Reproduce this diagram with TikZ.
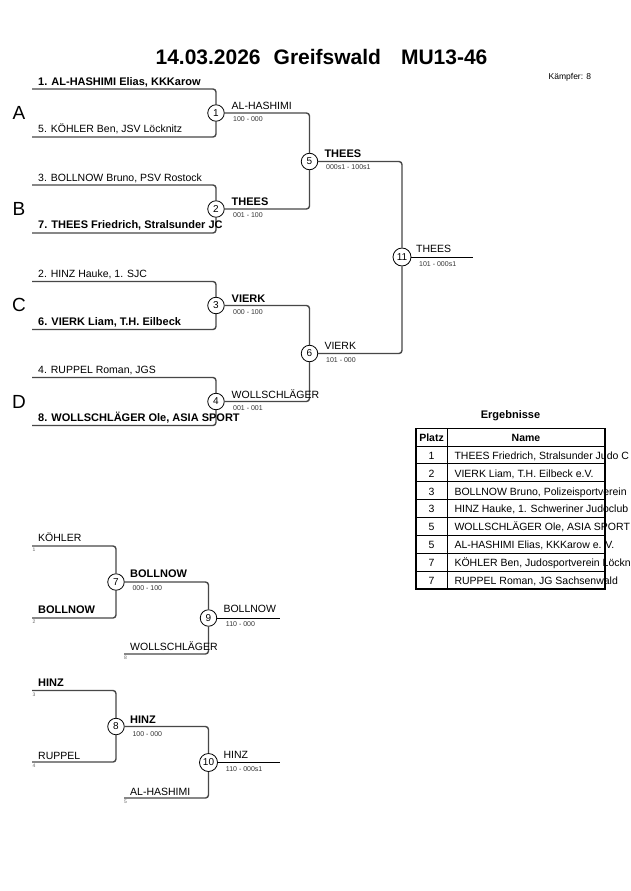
\documentclass[tikz,border=0pt]{standalone}
\usepackage{fontspec}
\setmainfont{Liberation Sans}
\begin{document}
\begin{tikzpicture}[x=1pt,y=-1pt,
  br/.style={draw=black!72, line width=1.4pt, rounded corners=3pt},
  bout/.style={draw=black, line width=1pt},
  mc/.style={circle, draw=black, line width=0.8pt, fill=white, minimum size=16.5pt, inner sep=0pt, font=\fontsize{10}{10}\selectfont},
  mcw/.style={mc, minimum size=18pt},
  nm/.style={anchor=base west, inner sep=0pt, font=\fontsize{10.5}{12}\selectfont},
  nmb/.style={anchor=base west, inner sep=0pt, font=\fontsize{11}{12}\selectfont\bfseries},
  sc/.style={anchor=base west, inner sep=0pt, font=\fontsize{7}{8}\selectfont, text=black!80},
  seed/.style={anchor=north west, inner sep=0pt, font=\fontsize{5}{5}\selectfont, text=black!60},
  pool/.style={anchor=center, inner sep=0pt, font=\fontsize{19}{20}\selectfont},
  cell/.style={anchor=base, inner sep=0pt, font=\fontsize{10.5}{12}\selectfont},
  celln/.style={anchor=base west, inner sep=0pt, font=\fontsize{10.5}{12}\selectfont},
]
\useasboundingbox[fill=white] (0,0) rectangle (630,891);

% title
\node[anchor=base, inner sep=0pt, font=\fontsize{21}{22}\selectfont\bfseries] (title) at (321.5,65) {14.03.2026\hspace{13pt}Greifswald\hspace{20pt}MU13-46};
\node[anchor=base west, inner sep=0pt, font=\fontsize{8.5}{9}\selectfont] (kaempfer) at (548.5,80) {Kämpfer: 8};

% pool letters
\node[pool] (pA) at (19,113) {A};
\node[pool] (pB) at (19,209) {B};
\node[pool] (pC) at (19,305) {C};
\node[pool] (pD) at (19,401.5) {D};

% match circles (main bracket)
\node[mc] (m1) at (216,113) {1};
\node[mc] (m2) at (216,209) {2};
\node[mc] (m3) at (216,305.5) {3};
\node[mc] (m4) at (216,401.5) {4};
\node[mc] (m5) at (309.5,161.5) {5};
\node[mc] (m6) at (309.5,353.5) {6};
\node[mcw] (m11) at (402,257) {11};

% start coordinates
\coordinate (s1) at (32,89);
\coordinate (s5) at (32,137);
\coordinate (s3) at (32,185);
\coordinate (s7) at (32,233);
\coordinate (s2) at (32,281.5);
\coordinate (s6) at (32,329.5);
\coordinate (s4) at (32,377.5);
\coordinate (s8) at (32,425.5);
\coordinate (fin) at (472.5,257);

% connectors
\draw[br] (s1) -| (m1);
\draw[br] (s5) -| (m1);
\draw[br] (s3) -| (m2);
\draw[br] (s7) -| (m2);
\draw[br] (s2) -| (m3);
\draw[br] (s6) -| (m3);
\draw[br] (s4) -| (m4);
\draw[br] (s8) -| (m4);
\draw[br] (m1) -| (m5);
\draw[br] (m2) -| (m5);
\draw[br] (m3) -| (m6);
\draw[br] (m4) -| (m6);
\draw[br] (m5) -| (m11);
\draw[br] (m6) -| (m11);
\draw[bout] (m11) -- (fin);

% competitor labels
\node[nmb] (n1) at (38,85) {1. AL-HASHIMI Elias, KKKarow};
\node[nm]  (n5) at (38,132.5) {5. KÖHLER Ben, JSV Löcknitz};
\node[nm]  (n3) at (38,181) {3. BOLLNOW Bruno, PSV Rostock};
\node[nmb] (n7) at (38,228.5) {7. THEES Friedrich, Stralsunder JC};
\node[nm]  (n2) at (38,277.5) {2. HINZ Hauke, 1. SJC};
\node[nmb] (n6) at (38,325) {6. VIERK Liam, T.H. Eilbeck};
\node[nm]  (n4) at (38,373) {4. RUPPEL Roman, JGS};
\node[nmb] (n8) at (38,421) {8. WOLLSCHLÄGER Ole, ASIA SPORT};

% winners and scores
\node[nm]  (w1) at (231.5,109) {AL-HASHIMI};
\node[sc]  (r1) at (233,121.5) {100 - 000};
\node[nmb] (w2) at (231.5,205) {THEES};
\node[sc]  (r2) at (233,217.3) {001 - 100};
\node[nmb] (w3) at (231.5,302) {VIERK};
\node[sc]  (r3) at (233,314) {000 - 100};
\node[nm]  (w4) at (231.5,398) {WOLLSCHLÄGER};
\node[sc]  (r4) at (233,410) {001 - 001};
\node[nmb] (w5) at (324.3,157.3) {THEES};
\node[sc]  (r5) at (326,169.3) {000s1 - 100s1};
\node[nm]  (w6) at (324.3,349.3) {VIERK};
\node[sc]  (r6) at (326,362.3) {101 - 000};
\node[nm]  (w11) at (416,252.7) {THEES};
\node[sc]  (r11) at (419,266.7) {101 - 000s1};

% results table
\node[anchor=base, inner sep=0pt, font=\fontsize{11}{12}\selectfont\bfseries] (erg) at (510.5,418.3) {Ergebnisse};
\begin{scope}
\clip (0,0) rectangle (630,891);
\foreach \i/\p/\n in {1/1/{THEES Friedrich, Stralsunder Judo C},
                      2/2/{VIERK Liam, T.H. Eilbeck e.V.},
                      3/3/{BOLLNOW Bruno, Polizeisportverein},
                      4/3/{HINZ Hauke, 1. Schweriner Judoclub},
                      5/5/{WOLLSCHLÄGER Ole, ASIA SPORT},
                      6/5/{AL-HASHIMI Elias, KKKarow e. V.},
                      7/7/{KÖHLER Ben, Judosportverein Löckn},
                      8/7/{RUPPEL Roman, JG Sachsenwald}}{
  \node[cell] (tp\i) at (431.5,{446+17.875*\i-4.6}) {\p};
  \node[celln] (tn\i) at (454.3,{446+17.875*\i-4.6}) {\n};
}
\end{scope}
\node[cell, font=\fontsize{10.5}{12}\selectfont\bfseries] (hp) at (431.5,441) {Platz};
\node[cell, font=\fontsize{10.5}{12}\selectfont\bfseries] (hn) at (526,441) {Name};
\foreach \i in {0,...,7}{
  \draw[line width=0.8pt] (416,{446+17.875*\i}) -- (605,{446+17.875*\i});
}
\draw[line width=0.8pt] (447.3,428.3) -- (447.3,589);
\draw[line width=1.6pt] (416,428.3) rectangle (605,589);

% repechage bracket 1
\node[mc] (m7) at (116,582) {7};
\node[mc] (m9) at (208.5,618) {9};
\coordinate (t1) at (32,546);
\coordinate (t2) at (32,618);
\coordinate (t8) at (124,654);
\coordinate (e9) at (279.5,618);
\draw[br] (t1) -| (m7);
\draw[br] (t2) -| (m7);
\draw[br] (m7) -| (m9);
\draw[br] (t8) -| (m9);
\draw[bout] (m9) -- (e9);
\node[nm]  (k1) at (38,541.7) {KÖHLER};
\node[seed] (q1) at (32.3,548.3) {1};
\node[nmb] (k2) at (38,613.3) {BOLLNOW};
\node[seed] (q2) at (32.3,619.5) {2};
\node[nmb] (w7) at (130,577.3) {BOLLNOW};
\node[sc]  (r7) at (132.3,590) {000 - 100};
\node[nm]  (k8) at (130,650) {WOLLSCHLÄGER};
\node[seed] (q8) at (124,655.5) {8};
\node[nm]  (w9) at (223.3,612.7) {BOLLNOW};
\node[sc]  (r9) at (225.7,626) {110 - 000};

% repechage bracket 2
\node[mc] (m8) at (116,726.5) {8};
\node[mcw] (m10) at (208.5,762.5) {10};
\coordinate (u3) at (32,690.5);
\coordinate (u4) at (32,762);
\coordinate (u5) at (124,798);
\coordinate (e10) at (279.5,762.5);
\draw[br] (u3) -| (m8);
\draw[br] (u4) -| (m8);
\draw[br] (m8) -| (m10);
\draw[br] (u5) -| (m10);
\draw[bout] (m10) -- (e10);
\node[nmb] (k3) at (38,686.7) {HINZ};
\node[seed] (q3) at (32.3,692.5) {3};
\node[nm]  (k4) at (38,759) {RUPPEL};
\node[seed] (q4) at (32.3,764) {4};
\node[nmb] (w8) at (130,723.3) {HINZ};
\node[sc]  (r8) at (132.3,736) {100 - 000};
\node[nm]  (k5) at (130,795) {AL-HASHIMI};
\node[seed] (q5) at (124,800) {5};
\node[nm]  (w10) at (223.3,758.3) {HINZ};
\node[sc]  (r10) at (225.7,771.7) {110 - 000s1};
\end{tikzpicture}
\end{document}
